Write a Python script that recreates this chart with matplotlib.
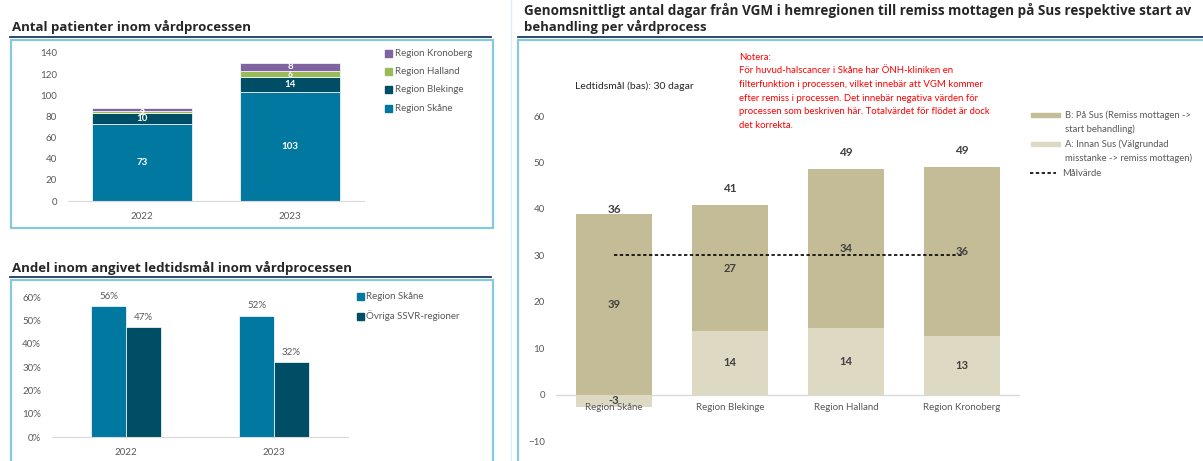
import numpy as np
import matplotlib
matplotlib.use("Agg")
import matplotlib.pyplot as plt
from matplotlib.patches import Rectangle
from matplotlib.lines import Line2D

plt.rcParams['font.family'] = ['Lato', 'DejaVu Sans']

# ---------------- data ----------------
years = ['2022', '2023']
skane_n = [73, 103]
blekinge_n = [10, 14]
halland_n = [2, 6]
kronoberg_n = [3, 8]

pct_skane = [0.56, 0.52]
pct_ovriga = [0.47, 0.32]

regions = ['Region Skåne', 'Region Blekinge', 'Region Halland', 'Region Kronoberg']
a_days = [-2.6, 13.7, 14.4, 12.6]
b_days = [38.9, 27.1, 34.2, 36.4]
target_days = [30, 30, 30, 30]

# ---------------- style ----------------
W, H = 1203, 461
C_SKANE = '#00789F'
C_BLEK = '#004D66'
C_HALL = '#9BBB59'
C_KRON = '#8064A2'
C_B = '#C4BC96'
C_A = '#DDD9C3'
GRAY = '#595959'
BOX = '#86C9DC'
NAVY = '#1F3864'

fig = plt.figure(figsize=(W / 100, H / 100), dpi=100)


def ax_px(x0, y0, x1, y1):
    return fig.add_axes([x0 / W, 1 - y1 / H, (x1 - x0) / W, (y1 - y0) / H])


def fx(x):
    return x / W


def fy(y):
    return 1 - y / H


def box(x0, y0, x1, y1):
    fig.patches.append(Rectangle((fx(x0), fy(y1)), fx(x1) - fx(x0), fy(y0) - fy(y1),
                                 transform=fig.transFigure, fill=False,
                                 edgecolor=BOX, lw=1.6, zorder=0))


def hline(x0, x1, y, color=NAVY, lw=1.3):
    fig.add_artist(Line2D([fx(x0), fx(x1)], [fy(y), fy(y)], transform=fig.transFigure,
                          color=color, lw=lw))


def fit_text(x, y, s, width, fs=10, **kw):
    t = fig.text(fx(x), fy(y), s, fontsize=fs, **kw)
    fig.canvas.draw()
    w = t.get_window_extent().width
    t.set_fontsize(fs * width / w)
    return t


def style_ax(ax):
    for s in ['top', 'right', 'left']:
        ax.spines[s].set_visible(False)
    ax.spines['bottom'].set_color('#D9D9D9')
    ax.tick_params(length=0, colors=GRAY, labelsize=7)
    ax.set_facecolor('none')


# ---------------- frames and titles ----------------
box(11, 40, 493, 228)
box(11, 280, 493, 475)
box(518, 40, 1215, 475)
hline(10, 491, 37)
hline(10, 491, 277)
hline(518, 1203, 37)
fig.add_artist(Line2D([fx(511), fx(511)], [0, 1], transform=fig.transFigure,
                      color='#E3EEF3', lw=1))

TK = dict(fontweight='bold', color='#262626', va='center', ha='left',
          family=['Open Sans', 'DejaVu Sans'])
fit_text(12, 27, 'Antal patienter inom vårdprocessen', 240, **TK)
fit_text(12, 268, 'Andel inom angivet ledtidsmål inom vårdprocessen', 340, **TK)
fit_text(524, 11, 'Genomsnittligt antal dagar från VGM i hemregionen till remiss mottagen på Sus respektive start av', 670, **TK)
fit_text(524, 27, 'behandling per vårdprocess', 182, **TK)

# ---------------- chart 1: stacked patients ----------------
ax1 = ax_px(68, 53, 364, 201)
x = np.arange(len(years))
bw = 0.67
bottom = np.zeros(len(years))
series1 = [(skane_n, C_SKANE, 'Region Skåne'), (blekinge_n, C_BLEK, 'Region Blekinge'),
           (halland_n, C_HALL, 'Region Halland'), (kronoberg_n, C_KRON, 'Region Kronoberg')]
for vals, col, name in series1:
    v = np.array(vals, dtype=float)
    ax1.bar(x, v, bw, bottom=bottom, color=col, edgecolor='white', lw=0.5)
    for xi, b, vi in zip(x, bottom, v):
        fs = 7 if vi >= 8 else 6
        ax1.text(xi, b + vi / 2, f'{vi:.0f}', ha='center', va='center',
                 color='white', fontsize=fs, fontweight='bold')
    bottom += v
ax1.set_xlim(-0.5, 1.5)
ax1.set_ylim(0, 140)
ax1.set_yticks(np.arange(0, 141, 20))
ax1.set_xticks(x)
ax1.set_xticklabels(years)
style_ax(ax1)
ax1.tick_params(axis='y', pad=8)
ax1.tick_params(axis='x', pad=8)

for i, (vals, col, name) in enumerate(reversed(series1)):
    yy = 54 + 18 * i
    fig.patches.append(Rectangle((fx(385), fy(yy + 3.5)), 7 / W, 7 / H,
                                 transform=fig.transFigure, color=col))
    fig.text(fx(395), fy(yy), name, fontsize=7, color=GRAY, va='center')

# ---------------- chart 2: share within target ----------------
ax2 = ax_px(52, 297, 348, 437)
bw2 = 0.236
ax2.bar(x - bw2 / 2, pct_skane, bw2, color=C_SKANE, edgecolor='white', lw=0.5)
ax2.bar(x + bw2 / 2, pct_ovriga, bw2, color=C_BLEK, edgecolor='white', lw=0.5)
for xi, v in zip(x, pct_skane):
    ax2.annotate(f'{v:.0%}', (xi - bw2 / 2, v), xytext=(0, 7), textcoords='offset points',
                 ha='center', va='center', fontsize=7, color=GRAY)
for xi, v in zip(x, pct_ovriga):
    ax2.annotate(f'{v:.0%}', (xi + bw2 / 2, v), xytext=(0, 7), textcoords='offset points',
                 ha='center', va='center', fontsize=7, color=GRAY)
ax2.set_xlim(-0.5, 1.5)
ax2.set_ylim(0, 0.6)
ax2.set_yticks(np.arange(0, 0.61, 0.1))
ax2.set_yticklabels([f'{t:.0%}' for t in np.arange(0, 0.61, 0.1)])
ax2.set_xticks(x)
ax2.set_xticklabels(years)
style_ax(ax2)
ax2.tick_params(axis='y', pad=8)
ax2.tick_params(axis='x', pad=8)

for i, (name, col) in enumerate([('Region Skåne', C_SKANE), ('Övriga SSVR-regioner', C_BLEK)]):
    yy = 296 + 20 * i
    fig.patches.append(Rectangle((fx(357), fy(yy + 3.5)), 7 / W, 7 / H,
                                 transform=fig.transFigure, color=col))
    fig.text(fx(366), fy(yy), name, fontsize=7, color=GRAY, va='center')

# ---------------- chart 3: days ----------------
ax3 = ax_px(556, 116, 1020, 441)
xr = np.arange(len(regions))
bw3 = 0.66
a = np.array(a_days)
b = np.array(b_days)
ax3.bar(xr, a, bw3, color=C_A, zorder=2)
b_bottom = np.clip(a, 0, None)
ax3.bar(xr, b, bw3, bottom=b_bottom, color=C_B, zorder=2)
ax3.axhline(0, color='#D9D9D9', lw=1, zorder=1)
ax3.plot(xr, target_days, color='black', ls=(0, (2, 1.5)), lw=1.2, zorder=3)
lab = dict(ha='center', va='center', fontsize=8, fontweight='bold', color='#404040', zorder=4)
for xi, av, bv, bb in zip(xr, a, b, b_bottom):
    ax3.text(xi, av / 2, f'{av:.0f}', **lab)
    ax3.text(xi, bb + bv / 2, f'{bv:.0f}', **lab)
    tot = av + bv
    ax3.annotate(f'{tot:.0f}', (xi, tot), xytext=(0, 12), textcoords='offset points',
                 ha='center', va='center', fontsize=8.5, fontweight='bold', color='#404040')
    ax3.annotate(regions[xi], (xi, 0), xytext=(0, -9.5), textcoords='offset points',
                 ha='center', va='center', fontsize=7, color=GRAY, zorder=3)
ax3.set_xlim(-0.5, 3.5)
ax3.set_ylim(-10, 60)
ax3.set_yticks(np.arange(-10, 61, 10))
ax3.set_xticks([])
style_ax(ax3)
ax3.spines['bottom'].set_visible(False)
ax3.tick_params(axis='y', pad=8)

fig.text(fx(575), fy(86), 'Ledtidsmål (bas): 30 dagar', fontsize=7.5, color='#262626', va='center')
note = ['Notera:',
        'För huvud-halscancer i Skåne har ÖNH-kliniken en',
        'filterfunktion i processen, vilket innebär att VGM kommer',
        'efter remiss i processen. Det innebär negativa värden för',
        'processen som beskriven här. Totalvärdet för flödet är dock',
        'det korrekta.']
for i, line in enumerate(note):
    fig.text(fx(739), fy(57 + 13.7 * i), line, fontsize=6.9, color='#FF0000', va='center')

# legend chart 3
fig.patches.append(Rectangle((fx(1031), fy(117.5)), 29 / W, 4.5 / H,
                             transform=fig.transFigure, color=C_B))
fig.text(fx(1065), fy(115), 'B: På Sus (Remiss mottagen ->', fontsize=6.8, color=GRAY, va='center')
fig.text(fx(1065), fy(129), 'start behandling)', fontsize=6.8, color=GRAY, va='center')
fig.patches.append(Rectangle((fx(1031), fy(146.5)), 29 / W, 4.5 / H,
                             transform=fig.transFigure, color=C_A))
fig.text(fx(1065), fy(144), 'A: Innan Sus (Välgrundad', fontsize=6.8, color=GRAY, va='center')
fig.text(fx(1065), fy(158), 'misstanke -> remiss mottagen)', fontsize=6.8, color=GRAY, va='center')
fig.add_artist(Line2D([fx(1030), fx(1056)], [fy(173), fy(173)], transform=fig.transFigure,
                      color='black', ls=(0, (2, 1.5)), lw=1.2))
fig.text(fx(1062), fy(173), 'Målvärde', fontsize=6.8, color=GRAY, va='center')

fig.savefig('out.png', dpi=100, facecolor='white')
